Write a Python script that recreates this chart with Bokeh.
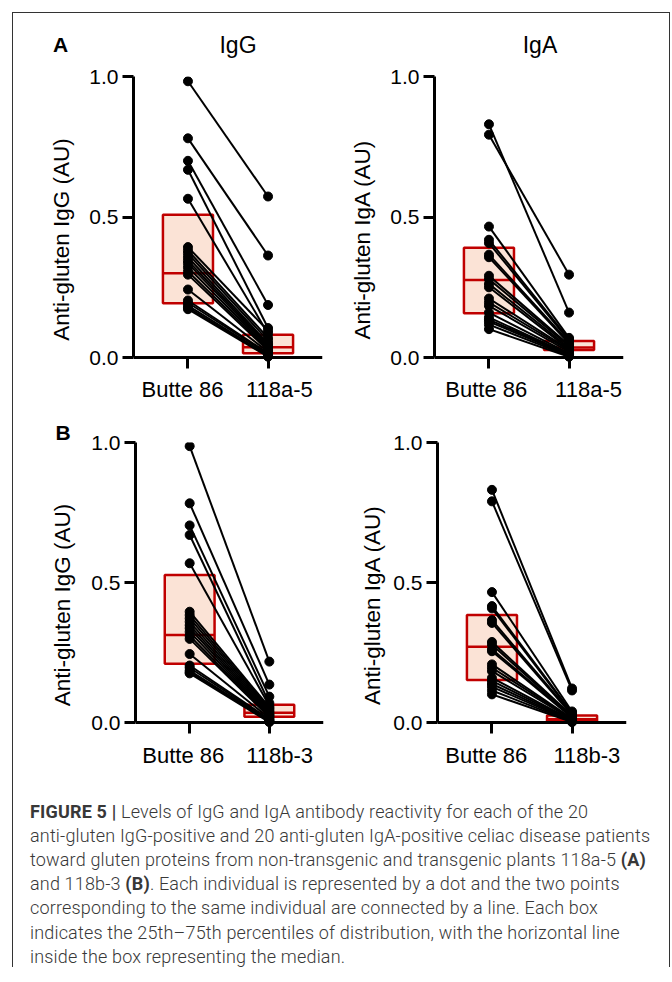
from bokeh.plotting import figure
from bokeh.models import FactorRange, Range1d, FixedTicker, NumeralTickFormatter, Div, ColumnDataSource, Title
from bokeh.layouts import column, row
from bokeh.transform import dodge
from bokeh.core.properties import value
from bokeh.embed import file_html
from bokeh.resources import INLINE

# ---------------- data ----------------
CTRL = "Butte 86"
LINE_A = "118a-5"
LINE_B = "118b-3"

# Panel A, IgG (20 patients, paired)
A_IGG_CTRL = [0.983, 0.780, 0.700, 0.668, 0.565, 0.393, 0.381, 0.370, 0.357, 0.345,
              0.335, 0.321, 0.306, 0.295, 0.242, 0.203, 0.195, 0.185, 0.178, 0.172]
A_IGG_TRANS = [0.573, 0.363, 0.187, 0.105, 0.085, 0.095, 0.070, 0.060, 0.050, 0.045,
               0.040, 0.035, 0.030, 0.025, 0.020, 0.015, 0.012, 0.008, 0.005, 0.003]
# Panel A, IgA
A_IGA_CTRL = [0.830, 0.793, 0.466, 0.419, 0.407, 0.366, 0.357, 0.291, 0.279, 0.262,
              0.250, 0.210, 0.196, 0.184, 0.160, 0.143, 0.135, 0.128, 0.117, 0.101]
A_IGA_TRANS = [0.160, 0.295, 0.070, 0.065, 0.060, 0.055, 0.050, 0.045, 0.040, 0.035,
               0.030, 0.028, 0.025, 0.020, 0.015, 0.012, 0.010, 0.008, 0.005, 0.003]
# Panel B, IgG
B_IGG_CTRL = [0.987, 0.783, 0.704, 0.670, 0.569, 0.396, 0.384, 0.372, 0.360, 0.348,
              0.337, 0.324, 0.310, 0.299, 0.245, 0.204, 0.196, 0.186, 0.180, 0.176]
B_IGG_TRANS = [0.218, 0.136, 0.093, 0.070, 0.060, 0.055, 0.050, 0.045, 0.040, 0.035,
               0.030, 0.027, 0.024, 0.020, 0.016, 0.012, 0.009, 0.006, 0.004, 0.002]
# Panel B, IgA
B_IGA_CTRL = [0.831, 0.790, 0.466, 0.416, 0.408, 0.366, 0.356, 0.288, 0.278, 0.262,
              0.255, 0.208, 0.196, 0.184, 0.160, 0.149, 0.138, 0.128, 0.115, 0.101]
B_IGA_TRANS = [0.122, 0.115, 0.040, 0.035, 0.032, 0.030, 0.027, 0.025, 0.022, 0.020,
               0.018, 0.015, 0.013, 0.011, 0.009, 0.007, 0.005, 0.004, 0.003, 0.002]

# Box statistics [control, transgenic]: 25th percentile, median, 75th percentile
A_IGG_Q1, A_IGG_MED, A_IGG_Q3 = [0.193, 0.015], [0.300, 0.037], [0.508, 0.081]
A_IGA_Q1, A_IGA_MED, A_IGA_Q3 = [0.158, 0.027], [0.276, 0.036], [0.391, 0.059]
B_IGG_Q1, B_IGG_MED, B_IGG_Q3 = [0.210, 0.021], [0.313, 0.035], [0.527, 0.064]
B_IGA_Q1, B_IGA_MED, B_IGA_Q3 = [0.152, 0.005], [0.271, 0.012], [0.384, 0.026]

Y_TICKS = [0.0, 0.5, 1.0]
YLABEL_IGG = "Anti-gluten IgG (AU)"
YLABEL_IGA = "Anti-gluten IgA (AU)"
TITLE_IGG = "IgG"
TITLE_IGA = "IgA"

CAPTION_LINES = [
    '<b style="font-weight:700">FIGURE 5 |</b> Levels of IgG and IgA antibody reactivity for each of the 20',
    "anti-gluten IgG-positive and 20 anti-gluten IgA-positive celiac disease patients",
    'toward gluten proteins from non-transgenic and transgenic plants 118a-5 <b style="font-weight:700">(A)</b>',
    'and 118b-3 <b style="font-weight:700">(B)</b>. Each individual is represented by a dot and the two points',
    "corresponding to the same individual are connected by a line. Each box",
    "indicates the 25th\u201375th percentiles of distribution, with the horizontal line",
    "inside the box representing the median.",
]

# ---------------- style ----------------
FONT = "Liberation Sans"
RED = "#C00000"
PEACH = "#FBE3D6"
BORDER = "#333333"
Y_START = -0.16   # frame reaches below zero so the category labels stay inside it


def make_panel(factors, ctrl_vals, trans_vals, q1, med, q3, ylabel,
               width, height, mb, label_standoff, label_shift, label_y):
    left, right, top, bottom = mb
    p = figure(x_range=FactorRange(factors=factors, range_padding=0.18,
                                   range_padding_units="absolute"),
               y_range=Range1d(Y_START, 1.0),
               width=width, height=height, output_backend="svg", toolbar_location=None,
               min_border_left=left, min_border_right=right,
               min_border_top=top, min_border_bottom=bottom)
    p.outline_line_color = None
    p.xgrid.visible = False
    p.ygrid.visible = False
    p.background_fill_color = "white"
    p.border_fill_color = "white"

    xa = p.xaxis[0]
    ya = p.yaxis[0]
    xa.fixed_location = 0
    for ax in (xa, ya):
        ax.axis_line_width = 3
        ax.axis_line_color = "black"
        ax.major_tick_line_width = 3
        ax.major_tick_line_color = "black"
        ax.major_tick_out = 11
        ax.major_tick_in = 0
        ax.minor_tick_line_color = None
        ax.major_label_text_font = FONT
        ax.major_label_text_color = "black"
    # category names are drawn as text glyphs below (GraphPad places them off-centre)
    xa.major_label_text_color = None
    ya.major_label_text_font_size = "21px"
    ya.major_label_standoff = 4
    ya.ticker = FixedTicker(ticks=Y_TICKS)
    ya.formatter = NumeralTickFormatter(format="0.0")
    ya.bounds = (0, 1)
    ya.axis_label = ylabel
    ya.axis_label_text_font = FONT
    ya.axis_label_text_font_size = "22.5px"
    ya.axis_label_text_font_style = "normal"
    ya.axis_label_text_color = "black"
    ya.axis_label_standoff = label_standoff

    src = ColumnDataSource(dict(x=factors, q1=q1, med=med, q3=q3))
    p.vbar(x="x", bottom="q1", top="q3", width=0.625, source=src,
           fill_color=PEACH, line_color=RED, line_width=2.5)
    p.segment(x0=dodge("x", -0.3125, range=p.x_range), y0="med",
              x1=dodge("x", 0.3125, range=p.x_range), y1="med",
              source=src, line_color=RED, line_width=2.5)

    n = len(ctrl_vals)
    p.multi_line(xs=[[factors[0], factors[1]] for _ in range(n)],
                 ys=[[c, t] for c, t in zip(ctrl_vals, trans_vals)],
                 line_color="black", line_width=2)
    p.scatter(x=[factors[0]] * n + [factors[1]] * n, y=ctrl_vals + trans_vals,
              size=9, color="black")

    for f, shift in zip(factors, label_shift):
        lsrc = ColumnDataSource(dict(x=[f], y=[label_y], t=[f]))
        p.text(x=dodge("x", shift, range=p.x_range), y="y", text="t", source=lsrc,
               text_font=value(FONT), text_font_size="22px", text_align="center",
               text_baseline="middle", text_color="black")
    return p


pa1 = make_panel([CTRL, LINE_A], A_IGG_CTRL, A_IGG_TRANS, A_IGG_Q1, A_IGG_MED, A_IGG_Q3,
                 YLABEL_IGG, 323, 339, (120, 14, 13, 0), 12, (-0.068, 0.141), -0.112)
pa2 = make_panel([CTRL, LINE_A], A_IGA_CTRL, A_IGA_TRANS, A_IGA_Q1, A_IGA_MED, A_IGA_Q3,
                 YLABEL_IGA, 333, 339, (98, 46, 13, 0), 12, (-0.033, 0.243), -0.112)
pb1 = make_panel([CTRL, LINE_B], B_IGG_CTRL, B_IGG_TRANS, B_IGG_Q1, B_IGG_MED, B_IGG_Q3,
                 YLABEL_IGG, 323, 365, (122, 13, 40, 0), 13, (-0.080, 0.129), -0.118)
pb2 = make_panel([CTRL, LINE_B], B_IGA_CTRL, B_IGA_TRANS, B_IGA_Q1, B_IGA_MED, B_IGA_Q3,
                 YLABEL_IGA, 333, 365, (101, 43, 40, 0), 5, (-0.071, 0.185), -0.118)

pb1.add_layout(Title(text="B", align="left", offset=-80, standoff=-3,
                     text_font=FONT, text_font_size="21px", text_font_style="bold",
                     text_color="black"), "above")

HEADER_H = 50
header_html = (
    '<div style="position:relative; width:656px; height:%dpx; margin:0; '
    'font-family:\'Liberation Sans\', Arial, sans-serif; color:#000;">'
    '<span style="position:absolute; left:40px; top:21px; font-size:21px; '
    'line-height:1; font-weight:bold;">A</span>'
    '<span style="position:absolute; left:175px; width:100px; text-align:center; '
    'top:21px; font-size:23px; line-height:1;">' % HEADER_H + TITLE_IGG + '</span>'
    '<span style="position:absolute; left:477px; width:100px; text-align:center; '
    'top:21px; font-size:23px; line-height:1;">' + TITLE_IGA + '</span>'
    '</div>'
)
header = Div(text=header_html, width=656, height=HEADER_H, margin=0)

caption_html = (
    '<div style="font-family: Roboto, \'Liberation Sans\', sans-serif; font-weight: 300; '
    'font-size: 18px; letter-spacing: 0.17px; line-height: 24.2px; color: #383838; '
    'white-space: nowrap; padding: 32.6px 0 0 17px; margin: 0;">'
    + "<br>".join(CAPTION_LINES) + "</div>"
)
caption = Div(text=caption_html, width=656, height=200, margin=0)

inner = column(header, row(pa1, pa2, margin=0), row(pb1, pb2, margin=0), caption, margin=0)
H = HEADER_H + 339 + 365 + 200
vleft = Div(text="", width=1, height=H, margin=0, styles={"background-color": BORDER})
vright = Div(text="", width=1, height=H, margin=0, styles={"background-color": BORDER})
top_line = Div(text="", width=658, height=1, margin=0, styles={"background-color": BORDER})

layout = column(top_line, row(vleft, inner, vright, margin=0), margin=(12, 0, 0, 12))

with open("out.html", "w") as f:
    f.write(file_html(layout, INLINE))
